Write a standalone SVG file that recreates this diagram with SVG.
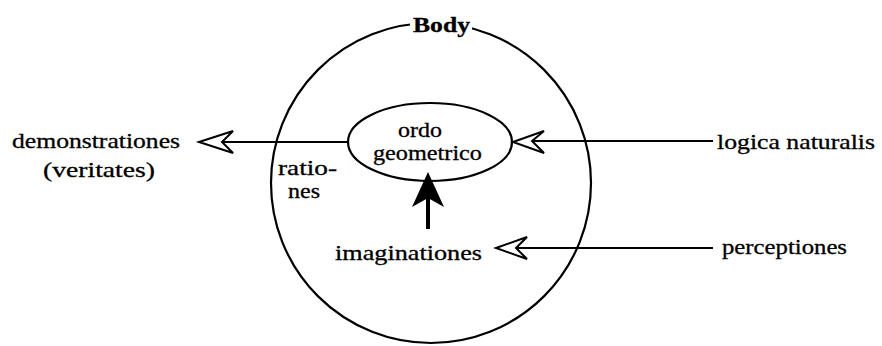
<svg xmlns="http://www.w3.org/2000/svg" width="882" height="346" viewBox="0 0 882 346">
<style>
.ln{stroke:#000;stroke-width:2.2;fill:none}
.ah{stroke:#000;stroke-width:2;fill:#fff;stroke-linejoin:miter}
.t{font-family:"Liberation Serif","DejaVu Serif",serif;font-size:21px;fill:#000;stroke:#000;stroke-width:0.3}
</style>
<rect width="882" height="346" fill="#fff"/>
<g id="body">
<circle class="ln" cx="431" cy="183" r="160"/>
<rect x="410" y="8" width="62" height="28" fill="#fff"/>
<text class="t" x="413" y="32" textLength="57" lengthAdjust="spacingAndGlyphs" font-weight="bold">Body</text>
</g>
<g id="ordo">
<ellipse class="ln" cx="430" cy="142" rx="82" ry="39" fill="#fff"/>
<text class="t" x="398" y="137" textLength="44" lengthAdjust="spacingAndGlyphs">ordo</text>
<text class="t" x="373" y="160" textLength="109" lengthAdjust="spacingAndGlyphs">geometrico</text>
</g>
<g id="rationes">
<text class="t" x="278" y="175" textLength="59" lengthAdjust="spacingAndGlyphs">ratio-</text>
<text class="t" x="288" y="198" textLength="32" lengthAdjust="spacingAndGlyphs">nes</text>
</g>
<g id="demonstrationes">
<text class="t" x="12" y="148" textLength="168" lengthAdjust="spacingAndGlyphs">demonstrationes</text>
<text class="t" x="43" y="177" textLength="112" lengthAdjust="spacingAndGlyphs">(veritates)</text>
</g>
<g id="imaginationes">
<text class="t" x="335" y="260" textLength="147" lengthAdjust="spacingAndGlyphs">imaginationes</text>
</g>
<g id="logica">
<text class="t" x="717" y="149" textLength="158" lengthAdjust="spacingAndGlyphs">logica naturalis</text>
</g>
<g id="perceptiones">
<text class="t" x="722" y="254" textLength="125" lengthAdjust="spacingAndGlyphs">perceptiones</text>
</g>
<g id="connectors">
<line class="ln" x1="348" y1="142" x2="222" y2="142"/>
<polygon class="ah" points="199,142 233,131 222,142 233,153"/>
<line class="ln" x1="713" y1="141" x2="532" y2="141"/>
<polygon class="ah" points="513,142 544,131 532,141 544,153"/>
<line class="ln" x1="713" y1="248" x2="516" y2="248"/>
<polygon class="ah" points="496,248 527,237 516,248 527,259"/>
<line x1="428" y1="229" x2="428" y2="195" stroke="#000" stroke-width="4"/>
<polygon points="428,172 444,207 428,198 412,207" fill="#000"/>
</g>
</svg>
